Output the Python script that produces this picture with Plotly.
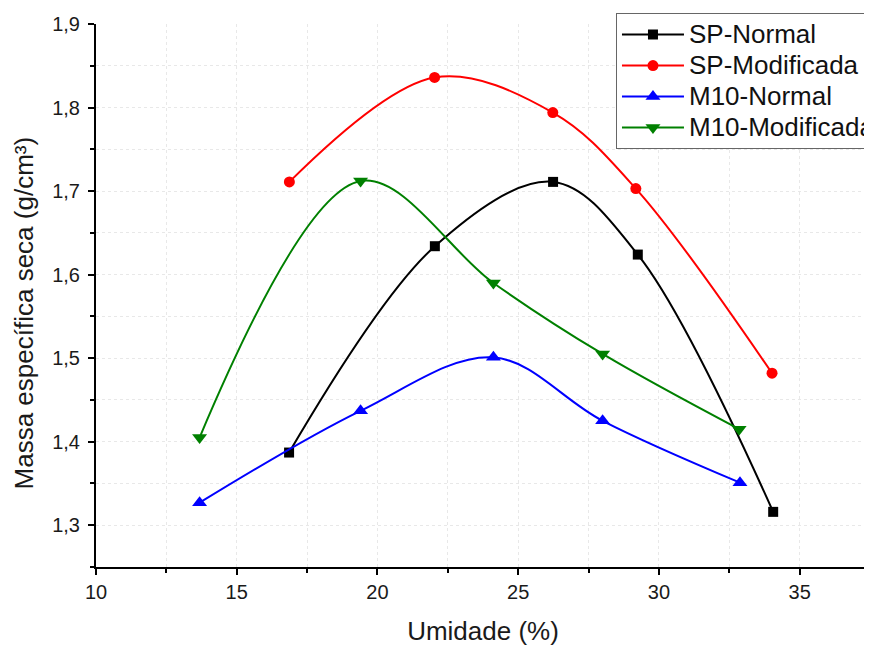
import plotly.graph_objects as go

sp_normal_x = [16.86, 22.04, 26.24, 29.25, 34.06]
sp_normal_y = [1.387, 1.634, 1.711, 1.624, 1.316]
sp_mod_x = [16.87, 22.03, 26.23, 29.18, 34.02]
sp_mod_y = [1.711, 1.836, 1.794, 1.703, 1.482]
m10_normal_x = [13.68, 19.40, 24.12, 28.00, 32.88]
m10_normal_y = [1.327, 1.437, 1.501, 1.425, 1.351]
m10_mod_x = [13.68, 19.40, 24.12, 28.00, 32.85]
m10_mod_y = [1.405, 1.712, 1.590, 1.505, 1.415]

series = [
    ("SP-Normal", sp_normal_x, sp_normal_y, "#000000", "square", 10),
    ("SP-Modificada", sp_mod_x, sp_mod_y, "#ff0000", "circle", 11),
    ("M10-Normal", m10_normal_x, m10_normal_y, "#0000ff", "triangle-up", 13),
    ("M10-Modificada", m10_mod_x, m10_mod_y, "#008000", "triangle-down", 13),
]

fig = go.Figure()
for name, xs, ys, col, sym, sz in series:
    fig.add_trace(go.Scatter(
        x=xs, y=ys, name='<span style="font-size:26px">' + name + '</span>',
        mode="lines+markers",
        line=dict(color=col, width=2, shape="spline", smoothing=1.0),
        marker=dict(symbol=sym, size=sz, color=col),
    ))

font_family = "Liberation Sans, Arial, sans-serif"
fig.update_layout(
    width=872, height=646,
    margin=dict(l=88, r=10, t=16, b=87, autoexpand=False),
    plot_bgcolor="white", paper_bgcolor="white",
    separators=",.",
    font=dict(family=font_family, color="#1a1a1a", size=20),
    showlegend=True,
    legend=dict(
        x=0.6718, y=1.02, xanchor="left", yanchor="top",
        bordercolor="#666666", borderwidth=1, bgcolor="white",
        font=dict(size=21.5, color="#111111"),
        itemwidth=62,
    ),
    annotations=[dict(
        text="Massa específica seca (g/cm³)", textangle=-90,
        xref="paper", yref="paper", x=-0.093, y=0.467,
        xanchor="center", yanchor="middle", showarrow=False,
        font=dict(size=26, color="#1a1a1a"),
    )],
)
fig.update_xaxes(
    range=[10, 37.5], tickvals=[10, 15, 20, 25, 30, 35],
    showline=True, linecolor="black", linewidth=2,
    ticks="outside", ticklen=6, tickwidth=2, tickcolor="black",
    showgrid=True, gridcolor="#e8e8e8", griddash="dot", gridwidth=1,
    minor=dict(dtick=2.5, ticks="outside", ticklen=4, tickwidth=2, tickcolor="black",
               showgrid=True, gridcolor="#e8e8e8", griddash="dot"),
    zeroline=False,
    title=dict(text="Umidade (%)", font=dict(size=26), standoff=20),
    tickfont=dict(size=20),
)
fig.update_yaxes(
    range=[1.25, 1.9], dtick=0.1, tick0=1.3, tickformat=".1f",
    showline=True, linecolor="black", linewidth=2,
    ticks="outside", ticklen=6, tickwidth=2, tickcolor="black",
    showgrid=True, gridcolor="#e8e8e8", griddash="dot", gridwidth=1,
    minor=dict(dtick=0.05, ticks="outside", ticklen=4, tickwidth=2, tickcolor="black",
               showgrid=True, gridcolor="#e8e8e8", griddash="dot"),
    zeroline=False,
    ticklabelstandoff=4,
    tickfont=dict(size=20),
)

fig.write_html("out.html")
